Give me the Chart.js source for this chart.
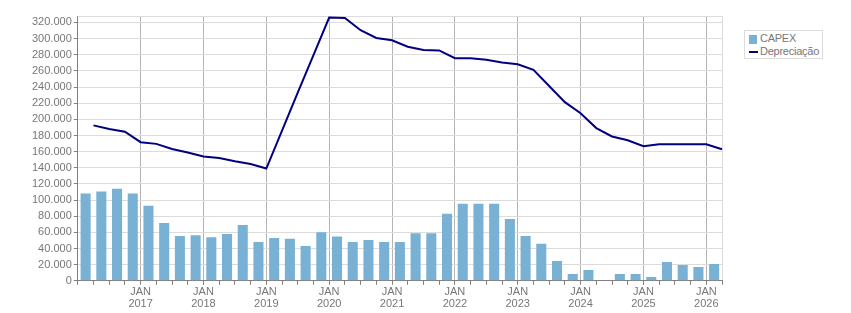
<!DOCTYPE html>
<html>
<head>
<meta charset="utf-8">
<script src="https://cdn.jsdelivr.net/npm/chart.js@4.4.0/dist/chart.umd.min.js"></script>
<style>
    body { margin: 0; background: #fff; }
    #wrap { position: relative; width: 851px; height: 313px; }
    #legend {
        position: absolute; left: 744px; top: 30px; width: 77px; height: 27px;
        border: 1px solid #dcdcdc; background: #fff;
        font: 11px "Liberation Sans", Arial, sans-serif; color: #777; letter-spacing: -0.25px;
    }
    #legend .item { position: absolute; left: 4px; height: 13px; line-height: 13px; }
    #legend .sw { position: absolute; left: 0; }
    #legend .txt { position: absolute; left: 11px; white-space: nowrap; }
</style>
</head>
<body>
<div id="wrap">
    <canvas id="myChart" width="851" height="313"></canvas>
    <div id="legend">
        <div class="item" style="top:1px"><span class="sw" style="top:3px;width:8px;height:9px;background:#78b1d4"></span><span class="txt">CAPEX</span></div>
        <div class="item" style="top:14px"><span class="sw" style="top:6px;width:9px;height:2px;background:#000080"></span><span class="txt">Depreciação</span></div>
    </div>
</div>
<script>
// quarters 1T2016 .. 1T2026
var quarters = ['1T16','2T16','3T16','4T16','1T17','2T17','3T17','4T17','1T18','2T18','3T18','4T18',
    '1T19','2T19','3T19','4T19','1T20','2T20','3T20','4T20','1T21','2T21','3T21','4T21',
    '1T22','2T22','3T22','4T22','1T23','2T23','3T23','4T23','1T24','2T24','3T24','4T24',
    '1T25','2T25','3T25','4T25','1T26'];

var capex = [108000, 110500, 114000, 108000, 93000, 71500, 55500, 56500, 54000, 58000, 69000, 48000,
    53000, 52000, 43000, 60000, 55000, 48000, 50500, 48000, 48000, 59000, 59000, 83000,
    95500, 95500, 95500, 76500, 55500, 46000, 24500, 8300, 13300, 0, 8300, 8300,
    4600, 23300, 19600, 17000, 20800];

// quarter boundaries (start of each quarter), Jan 2016 .. Apr 2026
var boundaries = ['JAN 2016','ABR 2016','JUL 2016','OUT 2016','JAN 2017','ABR 2017','JUL 2017','OUT 2017',
    'JAN 2018','ABR 2018','JUL 2018','OUT 2018','JAN 2019','ABR 2019','JUL 2019','OUT 2019',
    'JAN 2020','ABR 2020','JUL 2020','OUT 2020','JAN 2021','ABR 2021','JUL 2021','OUT 2021',
    'JAN 2022','ABR 2022','JUL 2022','OUT 2022','JAN 2023','ABR 2023','JUL 2023','OUT 2023',
    'JAN 2024','ABR 2024','JUL 2024','OUT 2024','JAN 2025','ABR 2025','JUL 2025','OUT 2025',
    'JAN 2026','ABR 2026'];

// depreciacao, Apr 2016 .. Apr 2026
var depreciacao = [192500, 188000, 184600, 171700, 169600, 163300, 159000, 154000, 152000, 148000, 144600,
    139000, 186000, 233000, 279500, 326000, 325500, 310400, 300800, 297900, 290000, 285800, 285400,
    275800, 275800, 273800, 270400, 268300, 261300, 241300, 221300, 207500, 189200, 178800, 174000,
    166700, 169200, 169200, 169200, 169200, 163000];

var yTicks = [0, 20000, 40000, 60000, 80000, 100000, 120000, 140000, 160000, 180000, 200000,
    220000, 240000, 260000, 280000, 300000, 320000];

var textColor = '#777';
var fontSpec = { family: '"Liberation Sans", Arial, sans-serif', size: 11, lineHeight: 1.1 };

function fmt(v) {
    return String(v).replace(/\B(?=(\d{3})+(?!\d))/g, '.');
}

var framePlugin = {
    id: 'frame',
    beforeDatasetsDraw: function (chart) {
        var a = chart.chartArea;
        var c = chart.ctx;
        c.save();
        c.strokeStyle = '#dcdcdc';
        c.lineWidth = 1;
        c.beginPath();
        c.moveTo(a.left, Math.round(a.top) + 0.5);
        c.lineTo(a.right, Math.round(a.top) + 0.5);
        c.stroke();
        c.restore();
    }
};

var ctx = document.getElementById('myChart').getContext('2d');

var chart = new Chart(ctx, {
    type: 'bar',
    data: {
        labels: quarters,
        datasets: [{
            label: 'Depreciação',
            type: 'line',
            data: [null].concat(depreciacao),
            xAxisID: 'x2',
            borderColor: '#000080',
            borderWidth: 2,
            pointRadius: 0,
            tension: 0,
            fill: false
        }, {
            label: 'CAPEX',
            data: capex,
            xAxisID: 'x',
            backgroundColor: '#78b1d4',
            borderWidth: 0,
            grouped: false,
            categoryPercentage: 1,
            barPercentage: 0.64
        }]
    },
    options: {
        responsive: false,
        animation: false,
        layout: { padding: { left: 30, right: 129, top: 16, bottom: 2 } },
        plugins: {
            legend: { display: false },
            tooltip: { enabled: false }
        },
        scales: {
            x: {
                type: 'category',
                labels: quarters,
                offset: true,
                display: false
            },
            x2: {
                type: 'category',
                labels: boundaries,
                offset: false,
                position: 'bottom',
                border: { color: '#808080' },
                grid: {
                    offset: false,
                    tickLength: 4,
                    color: function (c) {
                        var i = c.index;
                        if (i === boundaries.length - 1) return '#dcdcdc';
                        if (i > 0 && i % 4 === 0) return '#b4b4b4';
                        return 'rgba(0,0,0,0)';
                    },
                    tickColor: '#808080'
                },
                ticks: {
                    autoSkip: false,
                    maxRotation: 0,
                    padding: 1,
                    color: textColor,
                    font: fontSpec,
                    callback: function (value, index) {
                        if (index > 0 && index % 4 === 0 && index < boundaries.length - 1) {
                            return boundaries[index].split(' ');
                        }
                        return '';
                    }
                }
            },
            y: {
                min: 0,
                max: 328000,
                border: { color: '#808080' },
                grid: {
                    color: '#dcdcdc',
                    tickLength: 4,
                    tickColor: '#808080'
                },
                afterBuildTicks: function (scale) {
                    scale.ticks = yTicks.map(function (v) { return { value: v }; });
                },
                ticks: {
                    padding: 2,
                    color: textColor,
                    font: fontSpec,
                    callback: function (v) { return fmt(v); }
                }
            }
        }
    },
    plugins: [framePlugin]
});
</script>
</body>
</html>
